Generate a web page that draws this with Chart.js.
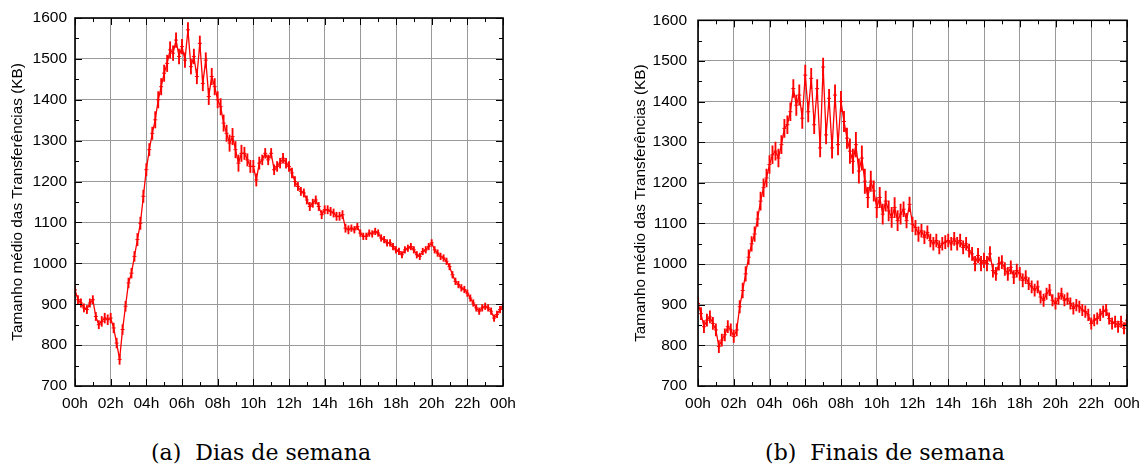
<!DOCTYPE html>
<html>
<head>
<meta charset="utf-8">
<script src="https://cdn.jsdelivr.net/npm/chart.js@4/dist/chart.umd.min.js"></script>
<style>
  html, body { margin: 0; padding: 0; background: #fff; }
  body { width: 1141px; height: 466px; position: relative; overflow: hidden; }
  canvas { position: absolute; top: 0; }
  #graficoA { left: 0; }
  #graficoB { left: 620px; }
  .legenda {
    position: absolute; top: 440px; width: 400px; text-align: center;
    font-family: "DejaVu Serif", serif; font-size: 22px; color: #000;
  }
</style>
</head>
<body>
<canvas id="graficoA" width="520" height="415"></canvas>
<canvas id="graficoB" width="521" height="415"></canvas>
<div class="legenda" style="left:61px">(a)&nbsp; Dias de semana</div>
<div class="legenda" style="left:685px">(b)&nbsp; Finais de semana</div>
<script>
// tamanho medio das transferencias (KB), uma amostra a cada 10 minutos, 00h ate 24h
const passoMinutos = 10;

const diasSemana = [
  935, 911, 903, 891, 887, 903,
  911, 870, 850, 858, 866, 862,
  866, 842, 805, 765, 838, 895,
  952, 976, 1017, 1058, 1098, 1164,
  1229, 1278, 1318, 1351, 1400, 1432,
  1465, 1489, 1522, 1514, 1546, 1506,
  1530, 1497, 1571, 1481, 1506, 1457,
  1538, 1440, 1497, 1408, 1457, 1432,
  1400, 1383, 1343, 1318, 1294, 1310,
  1278, 1245, 1269, 1269, 1253, 1237,
  1237, 1204, 1245, 1253, 1269, 1253,
  1269, 1229, 1237, 1245, 1257, 1245,
  1237, 1221, 1200, 1188, 1176, 1172,
  1155, 1139, 1147, 1155, 1139, 1119,
  1131, 1131, 1127, 1123, 1115, 1115,
  1119, 1086, 1082, 1086, 1082, 1090,
  1074, 1066, 1066, 1074, 1072, 1078,
  1074, 1062, 1058, 1050, 1050, 1041,
  1033, 1029, 1021, 1033, 1037, 1041,
  1033, 1021, 1017, 1029, 1033, 1041,
  1050, 1033, 1025, 1017, 1013, 1005,
  992, 972, 956, 948, 940, 936,
  927, 915, 903, 891, 883, 891,
  895, 891, 883, 866, 875, 887,
  895
];

const finaisSemana = [
  903, 878, 846, 862, 870, 854,
  838, 797, 813, 826, 846, 838,
  822, 838, 895, 935, 976, 1017,
  1050, 1074, 1111, 1155, 1188, 1212,
  1245, 1269, 1278, 1261, 1294, 1334,
  1343, 1375, 1432, 1391, 1416, 1359,
  1465, 1375, 1457, 1343, 1432, 1286,
  1485, 1318, 1408, 1286, 1416, 1294,
  1400, 1351, 1310, 1278, 1253, 1294,
  1229, 1261, 1204, 1164, 1204, 1180,
  1139, 1164, 1123, 1155, 1131, 1115,
  1139, 1107, 1123, 1135, 1107, 1147,
  1098, 1090, 1074, 1082, 1066, 1078,
  1058, 1050, 1058, 1041, 1050, 1054,
  1058, 1050, 1062, 1050, 1058, 1041,
  1050, 1033, 1025, 1001, 1021, 1001,
  1009, 1001, 1025, 984, 976, 1001,
  1005, 988, 976, 992, 968, 984,
  976, 960, 968, 952, 944, 936,
  944, 919, 911, 927, 936, 911,
  903, 915, 927, 911, 915, 903,
  891, 899, 895, 887, 883, 875,
  854, 862, 866, 875, 883, 887,
  866, 854, 858, 846, 858, 842,
  862
];

// meia altura das barras de erro (KB), uma por hora 00h..24h
const erroDias = [
  10, 10, 12, 12, 15, 20, 18, 18, 20, 20, 15, 12, 12,
  10, 10, 10, 8, 8, 8, 8, 8, 8, 8, 8, 8
];
const erroFinais = [
  15, 15, 15, 18, 22, 22, 25, 22, 25, 30, 25, 25, 18,
  16, 16, 16, 18, 16, 16, 15, 14, 14, 14, 14, 14
];

const eixoY = { min: 700, max: 1600, passo: 100, marcaMenor: 50 };
const eixoX = { min: 0, max: 24, passo: 2, marcaMenor: 1 };
const tituloY = 'Tamanho médio das Transferências (KB)';

function horaDe(i) { return i * passoMinutos / 60; }

function pontos(valores) {
  return valores.map((v, i) => ({ x: horaDe(i), y: v }));
}

function barrasErro(valores, erros) {
  return valores.map((v, i) => {
    const e = erros[Math.round(horaDe(i))];
    return { x: horaDe(i), y: [v - e, v + e] };
  });
}

function rotuloHora(v) {
  return String(v % 24).padStart(2, '0') + 'h';
}

// marcas internas nas quatro bordas + moldura preta
const moldura = {
  id: 'moldura',
  afterDraw(chart) {
    const { ctx, chartArea: a, scales: { x, y } } = chart;
    ctx.save();
    ctx.strokeStyle = '#000';
    ctx.lineWidth = 1;
    ctx.beginPath();
    for (let h = eixoX.min; h <= eixoX.max; h += eixoX.marcaMenor) {
      const len = h % eixoX.passo === 0 ? 7 : 4;
      const px = Math.round(x.getPixelForValue(h)) + 0.5;
      ctx.moveTo(px, a.bottom); ctx.lineTo(px, a.bottom - len);
      ctx.moveTo(px, a.top); ctx.lineTo(px, a.top + len);
    }
    for (let v = eixoY.min; v <= eixoY.max; v += eixoY.marcaMenor) {
      const len = v % eixoY.passo === 0 ? 7 : 4;
      const py = Math.round(y.getPixelForValue(v)) + 0.5;
      ctx.moveTo(a.left, py); ctx.lineTo(a.left + len, py);
      ctx.moveTo(a.right, py); ctx.lineTo(a.right - len, py);
    }
    ctx.stroke();
    ctx.lineWidth = 1.6;
    ctx.strokeRect(a.left, a.top, a.right - a.left, a.bottom - a.top);
    ctx.restore();
  }
};

function criarGrafico(id, valores, erros, larguraY, direita, centroTitulo) {
  const fonte = { family: '"Liberation Sans", Arial, sans-serif', size: 15.5 };
  return new Chart(document.getElementById(id), {
    type: 'line',
    data: {
      datasets: [{
        type: 'bar',
        data: barrasErro(valores, erros),
        backgroundColor: '#ff0000',
        borderWidth: 0,
        barThickness: 1.2,
        order: 2
      }, {
        data: pontos(valores),
        borderColor: '#ff0000',
        backgroundColor: '#ff0000',
        borderWidth: 1.3,
        pointStyle: 'cross',
        pointRadius: 2,
        pointBorderWidth: 1,
        tension: 0,
        order: 1
      }]
    },
    options: {
      responsive: false,
      animation: false,
      layout: { padding: { top: 18, right: direita, left: 0, bottom: 0 } },
      plugins: { legend: { display: false }, tooltip: { enabled: false } },
      scales: {
        x: {
          type: 'linear',
          min: eixoX.min, max: eixoX.max,
          offset: false,
          afterFit(s) { s.height = 29; s.paddingLeft = 0; s.paddingRight = 0; },
          grid: { color: '#999', lineWidth: 1, drawTicks: false, offset: false },
          border: { display: false },
          ticks: {
            stepSize: eixoX.passo, padding: 8, color: '#000', font: fonte,
            maxRotation: 0, autoSkip: false, callback: rotuloHora
          }
        },
        y: {
          min: eixoY.min, max: eixoY.max,
          afterFit(s) { s.width = larguraY; },
          grid: { color: '#999', lineWidth: 1, drawTicks: false },
          border: { display: false },
          ticks: {
            stepSize: eixoY.passo, padding: larguraY - 67, color: '#000', font: fonte,
            callback: v => String(v)
          },
          title: {
            display: true, text: tituloY, color: '#000',
            font: { family: fonte.family, size: 15.3 },
            padding: { top: centroTitulo - 9, bottom: 0 }
          }
        }
      }
    },
    plugins: [moldura]
  });
}

criarGrafico('graficoA', diasSemana, erroDias, 75, 17, 18);
criarGrafico('graficoB', finaisSemana, erroFinais, 78, 14, 21);
</script>
</body>
</html>
